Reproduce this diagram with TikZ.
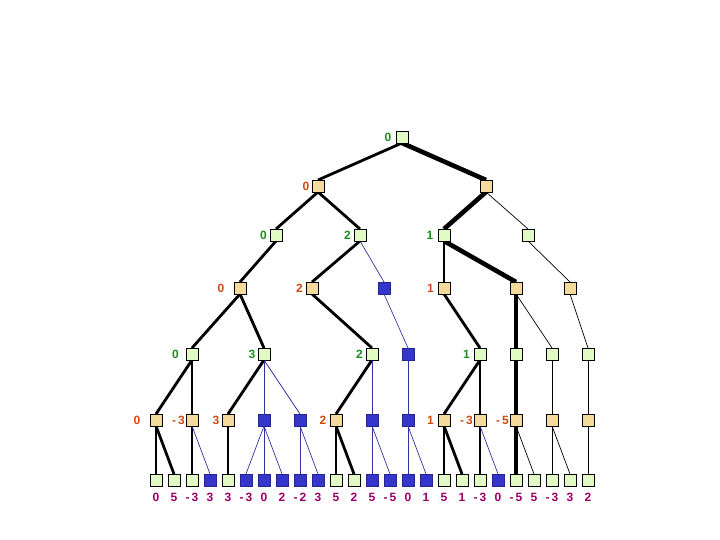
\documentclass[tikz,border=0pt]{standalone}
\usepackage{fontspec}
\setmainfont{Liberation Sans}
\definecolor{gfill}{HTML}{E2FBC4}
\definecolor{tfill}{HTML}{F5DB9B}
\definecolor{bfill}{HTML}{3535CC}
\definecolor{lgreen}{HTML}{1E8C1E}
\definecolor{lred}{HTML}{D04A10}
\definecolor{lpurple}{HTML}{990066}
\definecolor{bline}{HTML}{3030A0}
\newcommand{\mn}{-\hspace{2pt}}
\tikzset{
  box/.style={draw=black,line width=0.8pt,minimum size=12pt,inner sep=0pt,outer sep=0pt},
  gbox/.style={box,fill=gfill},
  tbox/.style={box,fill=tfill},
  bbox/.style={box,fill=bfill,draw=bfill!70!black},
  lbl/.style={font=\fontsize{12}{14}\selectfont\bfseries,inner sep=0pt},
  glbl/.style={lbl,text=lgreen},
  rlbl/.style={lbl,text=lred},
  plbl/.style={lbl,text=lpurple},
  eth/.style={line width=2.8pt,black},
  evt/.style={line width=4.6pt,black},
  etn/.style={line width=0.7pt,black},
  ebl/.style={line width=0.7pt,bline},
}
\begin{document}
\begin{tikzpicture}[x=1pt,y=-1pt]
\useasboundingbox (0,0) rectangle (720,540);
\def\ya{137}\def\yb{186}\def\yc{235}\def\yd{288}\def\ye{354}\def\yf{420}\def\yg{480}
% nodes
\node[gbox] (R) at (402,\ya) {};
\node[tbox] (M1) at (318,\yb) {};
\node[tbox] (M2) at (486,\yb) {};
\node[gbox] (V) at (276,\yc) {};
\node[gbox] (W) at (360,\yc) {};
\node[gbox] (X) at (444,\yc) {};
\node[gbox] (Y) at (528,\yc) {};
\node[tbox] (P) at (240,\yd) {};
\node[tbox] (Q) at (312,\yd) {};
\node[bbox] (Rb) at (384,\yd) {};
\node[tbox] (S) at (444,\yd) {};
\node[tbox] (T) at (516,\yd) {};
\node[tbox] (U) at (570,\yd) {};
\node[gbox] (A) at (192,\ye) {};
\node[gbox] (B) at (264,\ye) {};
\node[gbox] (C) at (372,\ye) {};
\node[bbox] (D) at (408,\ye) {};
\node[gbox] (E) at (480,\ye) {};
\node[gbox] (F) at (516,\ye) {};
\node[gbox] (G) at (552,\ye) {};
\node[gbox] (H) at (588,\ye) {};
\node[tbox] (na) at (156,\yf) {};
\node[tbox] (nb) at (192,\yf) {};
\node[tbox] (nc) at (228,\yf) {};
\node[bbox] (nd) at (264,\yf) {};
\node[bbox] (ne) at (300,\yf) {};
\node[tbox] (nf) at (336,\yf) {};
\node[bbox] (ng) at (372,\yf) {};
\node[bbox] (nh) at (408,\yf) {};
\node[tbox] (ni) at (444,\yf) {};
\node[tbox] (nj) at (480,\yf) {};
\node[tbox] (nk) at (516,\yf) {};
\node[tbox] (nl) at (552,\yf) {};
\node[tbox] (nm) at (588,\yf) {};
% leaves
\foreach \i/\s in {1/gbox,2/gbox,3/gbox,4/bbox,5/gbox,6/bbox,7/bbox,8/bbox,9/bbox,10/bbox,11/gbox,12/gbox,13/bbox,14/bbox,15/bbox,16/bbox,17/gbox,18/gbox,19/gbox,20/bbox,21/gbox,22/gbox,23/gbox,24/gbox,25/gbox}
  \node[\s] (L\i) at ({156+18*(\i-1)},\yg) {};
% leaf labels
\foreach \i/\v in {1/0,2/5,3/\mn3,4/3,5/3,6/\mn3,7/0,8/2,9/\mn2,10/3,11/5,12/2,13/5,14/\mn5,15/0,16/1,17/5,18/1,19/\mn3,20/0,21/\mn5,22/5,23/\mn3,24/3,25/2}
  \node[plbl] (V\i) at ({156+18*(\i-1)},497) {\v};
% edges
\draw[eth] (R.south) -- (M1.north);
\draw[evt] (R.south) -- (M2.north);
\draw[eth] (M1.south) -- (V.north);
\draw[eth] (M1.south) -- (W.north);
\draw[evt] (M2.south) -- (X.north);
\draw[etn] (M2.south) -- (Y.north);
\draw[eth] (V.south) -- (P.north);
\draw[eth] (W.south) -- (Q.north);
\draw[ebl] (W.south) -- (Rb.north);
\draw[eth] (X.south) -- (S.north);
\draw[evt] (X.south) -- (T.north);
\draw[etn] (Y.south) -- (U.north);
\draw[eth] (P.south) -- (A.north);
\draw[eth] (P.south) -- (B.north);
\draw[eth] (Q.south) -- (C.north);
\draw[ebl] (Rb.south) -- (D.north);
\draw[eth] (S.south) -- (E.north);
\draw[evt] (T.south) -- (F.north);
\draw[etn] (T.south) -- (G.north);
\draw[etn] (U.south) -- (H.north);
\draw[eth] (A.south) -- (na.north);
\draw[eth] (A.south) -- (nb.north);
\draw[eth] (B.south) -- (nc.north);
\draw[ebl] (B.south) -- (nd.north);
\draw[ebl] (B.south) -- (ne.north);
\draw[eth] (C.south) -- (nf.north);
\draw[ebl] (C.south) -- (ng.north);
\draw[ebl] (D.south) -- (nh.north);
\draw[eth] (E.south) -- (ni.north);
\draw[eth] (E.south) -- (nj.north);
\draw[evt] (F.south) -- (nk.north);
\draw[etn] (G.south) -- (nl.north);
\draw[etn] (H.south) -- (nm.north);
\draw[eth] (na.south) -- (L1.north);
\draw[eth] (na.south) -- (L2.north);
\draw[eth] (nb.south) -- (L3.north);
\draw[ebl] (nb.south) -- (L4.north);
\draw[eth] (nc.south) -- (L5.north);
\draw[ebl] (nd.south) -- (L6.north);
\draw[ebl] (nd.south) -- (L7.north);
\draw[ebl] (nd.south) -- (L8.north);
\draw[ebl] (ne.south) -- (L9.north);
\draw[ebl] (ne.south) -- (L10.north);
\draw[eth] (nf.south) -- (L11.north);
\draw[eth] (nf.south) -- (L12.north);
\draw[ebl] (ng.south) -- (L13.north);
\draw[ebl] (ng.south) -- (L14.north);
\draw[ebl] (nh.south) -- (L15.north);
\draw[ebl] (nh.south) -- (L16.north);
\draw[eth] (ni.south) -- (L17.north);
\draw[eth] (ni.south) -- (L18.north);
\draw[eth] (nj.south) -- (L19.north);
\draw[ebl] (nj.south) -- (L20.north);
\draw[evt] (nk.south) -- (L21.north);
\draw[etn] (nk.south) -- (L22.north);
\draw[etn] (nl.south) -- (L23.north);
\draw[etn] (nl.south) -- (L24.north);
\draw[etn] (nm.south) -- (L25.north);
% redraw boxes on top of the connectors
\foreach \n in {R,V,W,X,Y,A,B,C,E,F,G,H,L1,L2,L3,L5,L11,L12,L17,L18,L19,L21,L22,L23,L24,L25}
  \draw[box,fill=gfill] (\n.south west) rectangle (\n.north east);
\foreach \n in {M1,M2,P,Q,S,T,U,na,nb,nc,nf,ni,nj,nk,nl,nm}
  \draw[box,fill=tfill] (\n.south west) rectangle (\n.north east);
\foreach \n in {Rb,D,nd,ne,ng,nh,L4,L6,L7,L8,L9,L10,L13,L14,L15,L16,L20}
  \draw[box,fill=bfill,draw=bfill!70!black] (\n.south west) rectangle (\n.north east);
% internal labels
\node[glbl] (tR) at (388,\ya) {0};
\node[rlbl] (tM1) at (306,\yb) {0};
\node[glbl] (tV) at (263.5,\yc) {0};
\node[glbl] (tW) at (347.5,\yc) {2};
\node[glbl] (tX) at (430,\yc) {1};
\node[rlbl] (tP) at (221,\yd) {0};
\node[rlbl] (tQ) at (299.5,\yd) {2};
\node[rlbl] (tS) at (430.5,\yd) {1};
\node[glbl] (tA) at (175.5,\ye) {0};
\node[glbl] (tB) at (252,\ye) {3};
\node[glbl] (tC) at (359.5,\ye) {2};
\node[glbl] (tE) at (466.5,\ye) {1};
\node[rlbl] (ta) at (137,\yf) {0};
\node[rlbl] (tb) at (178.5,\yf) {\mn3};
\node[rlbl] (tc) at (216,\yf) {3};
\node[rlbl] (tf) at (323,\yf) {2};
\node[rlbl] (ti) at (430.5,\yf) {1};
\node[rlbl] (tj) at (466.5,\yf) {\mn3};
\node[rlbl] (tk) at (502.5,\yf) {\mn5};
\end{tikzpicture}
\end{document}
